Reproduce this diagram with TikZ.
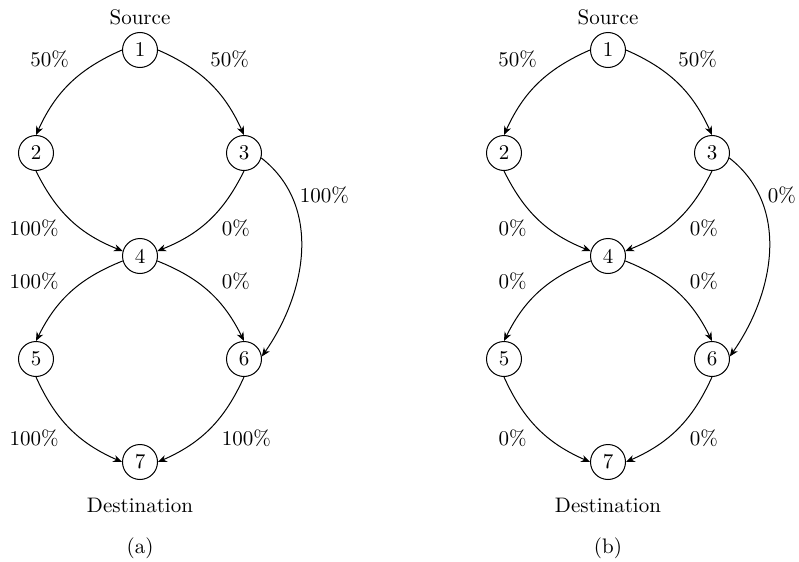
\documentclass[tikz,border=0pt]{standalone}
\usetikzlibrary{arrows.meta}
\begin{document}
\begin{tikzpicture}[x=0.5pt,y=-0.5pt,
  font=\fontsize{10.5}{12}\selectfont,
  vtx/.style={circle,draw,line width=0.5pt,minimum size=17.5pt,inner sep=0pt},
  flow/.style={line width=0.5pt,-{Stealth[length=4.4pt,width=3.6pt,inset=1.4pt]}},
  lab/.style={inner sep=0pt}]
\useasboundingbox (0,0) rectangle (799,562);
% ---------- panel (a)
\node[vtx] (a1) at (140,50) {1};
\node[vtx] (a2) at (36,153) {2};
\node[vtx] (a3) at (244,153) {3};
\node[vtx] (a4) at (140,256) {4};
\node[vtx] (a5) at (36,359) {5};
\node[vtx] (a6) at (244,359) {6};
\node[vtx] (a7) at (140,462) {7};
\draw[flow] (a1.west) to[bend right=21] (a2.north);
\draw[flow] (a1.east) to[bend left=21] (a3.north);
\draw[flow] (a2.south) to[bend right=21] (a4.164);
\draw[flow] (a3.south) to[bend left=21] (a4.16);
\draw[flow] (a4.196) to[bend right=21] (a5.north);
\draw[flow] (a4.-16) to[bend left=21] (a6.north);
\draw[flow] (a5.south) to[bend right=21] (a7.west);
\draw[flow] (a6.south) to[bend left=21] (a7.east);
\draw[flow] (a3.-16) to[out=-38,in=55] (a6.8);
\node[lab,anchor=base] (as) at (140,25) {Source};
\node[lab,anchor=base] (ad) at (140,512) {Destination};
\node[lab,anchor=base] (ac) at (140,553) {(a)};
\node[lab,anchor=base] (a12) at (49.5,67) {50\%};
\node[lab,anchor=base] (a13) at (229.5,67) {50\%};
\node[lab,anchor=base west] (a36) at (299.5,202) {100\%};
\node[lab,anchor=base east] (a24) at (59,235) {100\%};
\node[lab,anchor=base west] (a34) at (221.5,235) {0\%};
\node[lab,anchor=base east] (a45) at (59,288) {100\%};
\node[lab,anchor=base west] (a46) at (221.5,288) {0\%};
\node[lab,anchor=base east] (a57) at (59,445) {100\%};
\node[lab,anchor=base west] (a67) at (221.5,445) {100\%};
% ---------- panel (b)
\begin{scope}[xshift=234pt]
\node[vtx] (b1) at (140,50) {1};
\node[vtx] (b2) at (36,153) {2};
\node[vtx] (b3) at (244,153) {3};
\node[vtx] (b4) at (140,256) {4};
\node[vtx] (b5) at (36,359) {5};
\node[vtx] (b6) at (244,359) {6};
\node[vtx] (b7) at (140,462) {7};
\draw[flow] (b1.west) to[bend right=21] (b2.north);
\draw[flow] (b1.east) to[bend left=21] (b3.north);
\draw[flow] (b2.south) to[bend right=21] (b4.164);
\draw[flow] (b3.south) to[bend left=21] (b4.16);
\draw[flow] (b4.196) to[bend right=21] (b5.north);
\draw[flow] (b4.-16) to[bend left=21] (b6.north);
\draw[flow] (b5.south) to[bend right=21] (b7.west);
\draw[flow] (b6.south) to[bend left=21] (b7.east);
\draw[flow] (b3.-16) to[out=-38,in=55] (b6.8);
\node[lab,anchor=base] (bs) at (140,25) {Source};
\node[lab,anchor=base] (bd) at (140,512) {Destination};
\node[lab,anchor=base] (bc) at (140,553) {(b)};
\node[lab,anchor=base] (b12) at (49.5,67) {50\%};
\node[lab,anchor=base] (b13) at (229.5,67) {50\%};
\node[lab,anchor=base west] (b36) at (299.5,202) {0\%};
\node[lab,anchor=base east] (b24) at (59,235) {0\%};
\node[lab,anchor=base west] (b34) at (221.5,235) {0\%};
\node[lab,anchor=base east] (b45) at (59,288) {0\%};
\node[lab,anchor=base west] (b46) at (221.5,288) {0\%};
\node[lab,anchor=base east] (b57) at (59,445) {0\%};
\node[lab,anchor=base west] (b67) at (221.5,445) {0\%};
\end{scope}
\end{tikzpicture}
\end{document}
